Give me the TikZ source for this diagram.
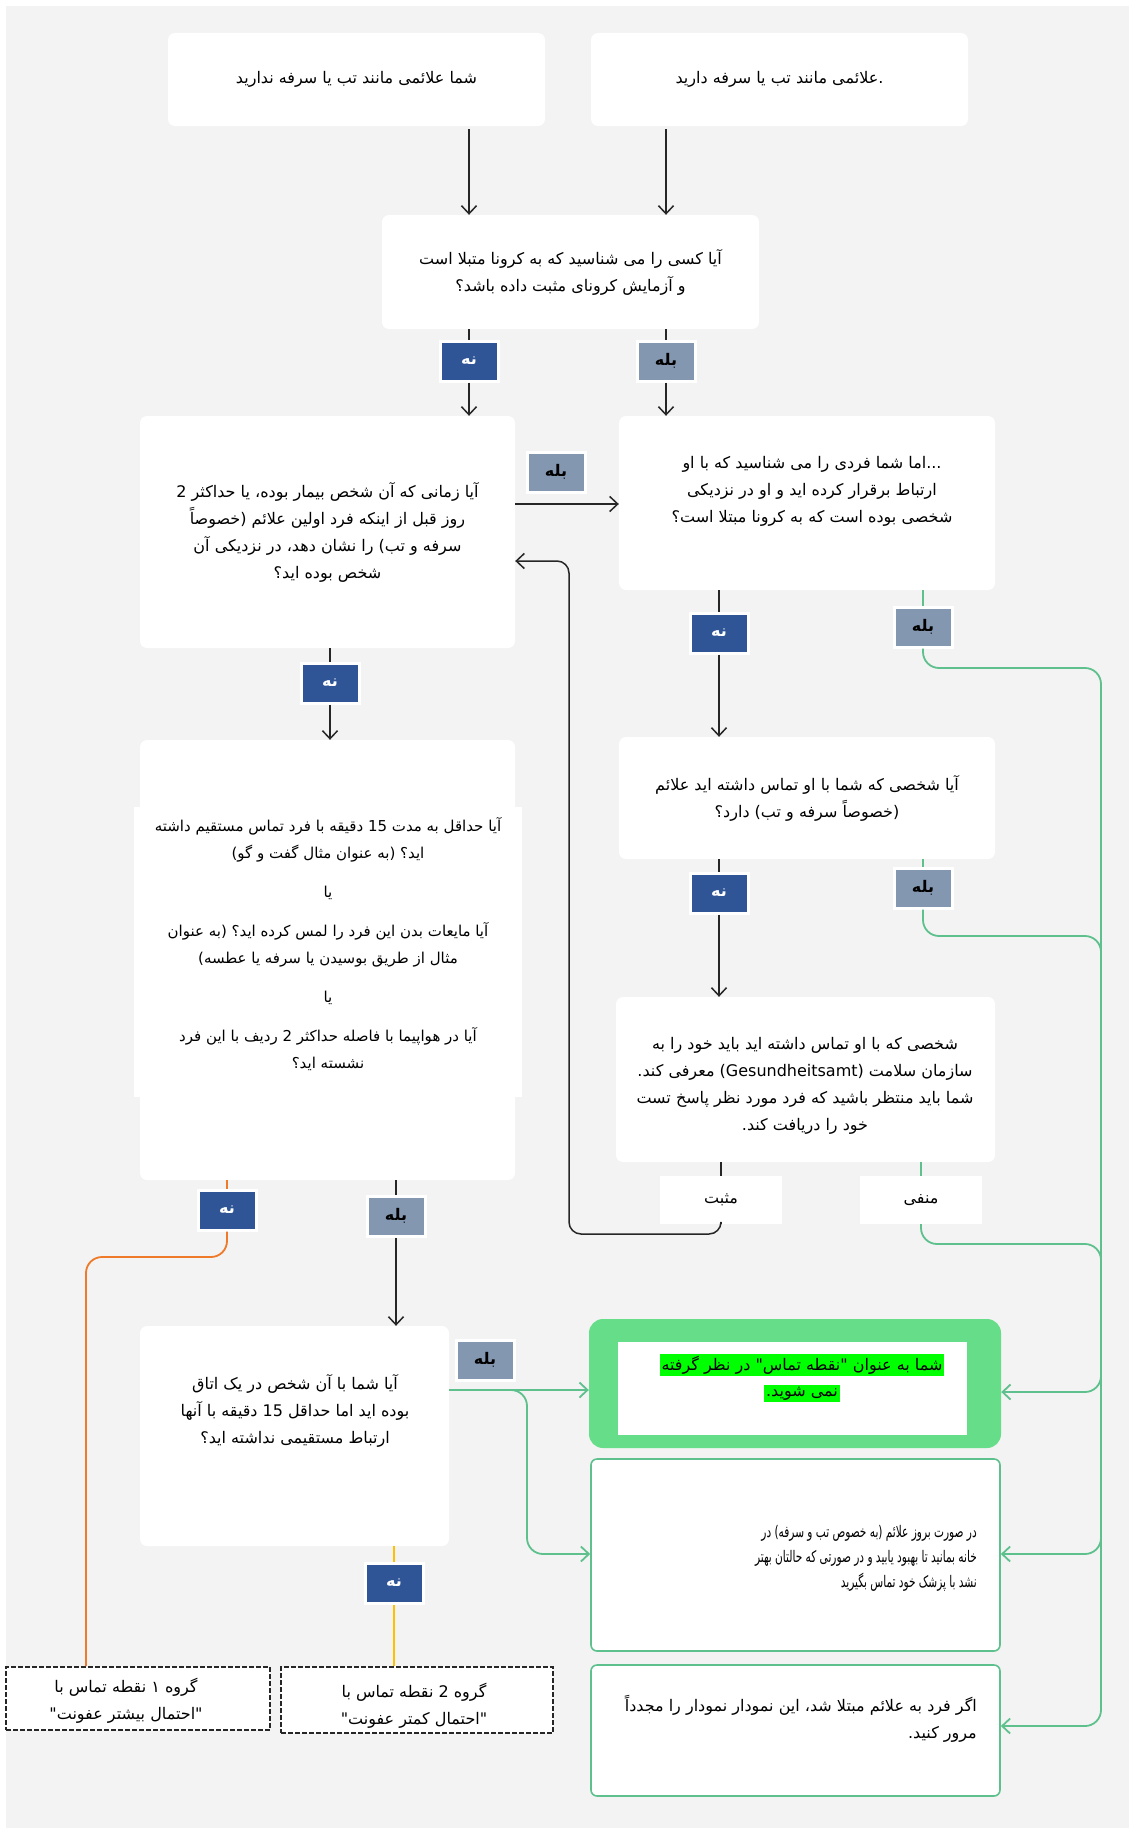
\documentclass[tikz,border=0pt]{standalone}
\usepackage{fontspec}
\usepackage{xcolor}
\usetikzlibrary{arrows.meta}
\TeXXeTstate=1
\setmainfont{DejaVu Sans}
\newfontfamily\farsi[Script=Arabic]{DejaVu Sans}
\newfontfamily\farsic[Script=Arabic,FakeStretch=0.66]{DejaVu Sans}
\newcommand{\rtlline}[1]{\beginR #1\endR}
\newcommand{\txt}{\farsi\fontsize{16}{27}\selectfont}
\newcommand{\hlline}[1]{{\setlength{\fboxsep}{2pt}\colorbox{hlc}{\rtlline{#1}}}}
\definecolor{bgc}{HTML}{F3F3F3}
\definecolor{noc}{HTML}{2F5597}
\definecolor{yesc}{HTML}{8497B0}
\definecolor{linec}{HTML}{262626}
\definecolor{grnc}{HTML}{5EC08C}
\definecolor{orngc}{HTML}{EE7A2A}
\definecolor{goldc}{HTML}{FFC000}
\definecolor{gboxc}{HTML}{66DD88}
\definecolor{hlc}{HTML}{00FF00}
\begin{document}
\begin{tikzpicture}[x=1pt,y=-1pt,
  box/.style={fill=white, rounded corners=7pt, inner sep=0pt, align=center, font=\txt},
  plain/.style={inner sep=0pt, align=center, font=\txt},
  nolab/.style={fill=noc, draw=white, line width=3pt, minimum width=58pt, minimum height=40pt, inner sep=0pt, text=white, font=\farsi\bfseries\fontsize{16}{18}\selectfont},
  yeslab/.style={nolab, fill=yesc, text=black},
  blk/.style={draw=linec, line width=1.5pt},
  tip/.style={-{Straight Barb[length=8pt,width=15pt]}},
  grl/.style={draw=grnc, line width=1.8pt, rounded corners=16pt},
  orl/.style={draw=orngc, line width=1.8pt, rounded corners=16pt},
  gol/.style={draw=goldc, line width=1.8pt},
  grp/.style={fill=white, draw=linec, line width=1.6pt, dash pattern=on 5pt off 2pt, inner sep=0pt},
  outbox/.style={fill=white, draw=grnc, line width=1.6pt, rounded corners=6pt, inner sep=0pt}
]
\fill[white] (0,0) rectangle (1131,1828);
\fill[bgc] (6,6) rectangle (1129,1828);
\useasboundingbox (0,0) rectangle (1131,1828);

% top boxes
\node[box, minimum width=377pt, minimum height=93pt] (b1) at (356.5,79.5) {\rtlline{شما علائمی مانند تب یا سرفه ندارید}};
\node[box, minimum width=377pt, minimum height=93pt] (b2) at (779.5,79.5) {\rtlline{\hbox{.}علائمی مانند تب یا سرفه دارید}};

\node[box, minimum width=377pt, minimum height=114pt] (q1) at (570.5,272) {\rtlline{آیا کسی را می شناسید که به کرونا متبلا است}\\ \rtlline{و آزمایش کرونای مثبت داده باشد؟}};

\node[nolab] (l1n) at (469,361) {نه};
\node[yeslab] (l1y) at (666,361) {بله};

\node[box, minimum width=375pt, minimum height=232pt] (q2) at (327.5,532) {\rtlline{آیا زمانی که آن شخص بیمار بوده، یا حداکثر 2}\\ \rtlline{روز قبل از اینکه فرد اولین علائم (خصوصاً}\\ \rtlline{سرفه و تب) را نشان دهد، در نزدیکی آن}\\ \rtlline{شخص بوده اید؟}};

\node[box, minimum width=376pt, minimum height=174pt] (q3) at (807,503) {};
\node[plain] (q3t) at (812,491) {\rtlline{\hbox{...}اما شما فردی را می شناسید که با او}\\ \rtlline{ارتباط برقرار کرده اید و او در نزدیکی}\\ \rtlline{شخصی بوده است که به کرونا مبتلا است؟}};

\node[yeslab] (l2y) at (556,472) {بله};

\node[nolab] (l3n) at (719,633) {نه};
\node[yeslab] (l3y) at (923,627) {بله};

\node[box, minimum width=376pt, minimum height=122pt] (q4) at (807,798) {\rtlline{آیا شخصی که شما با او تماس داشته اید علائم}\\ \rtlline{(خصوصاً سرفه و تب) دارد؟}};

\node[nolab] (l4n) at (719,893) {نه};
\node[yeslab] (l4y) at (923,888) {بله};

\node[box, minimum width=379pt, minimum height=165pt] (q5) at (805.5,1079.5) {};
\node[plain] (q5t) at (805,1086) {\rtlline{شخصی که با او تماس داشته اید باید خود را به}\\ \rtlline{سازمان سلامت (Gesundheitsamt) معرفی کند.}\\ \rtlline{شما باید منتظر باشید که فرد مورد نظر پاسخ تست}\\ \rtlline{خود را دریافت کند.}};

\node[plain, fill=white, minimum width=122pt, minimum height=48pt] (pos) at (721,1200) {مثبت};
\node[plain, fill=white, minimum width=122pt, minimum height=48pt] (neg) at (921,1200) {منفی};

\node[nolab] (lq2n) at (330,683) {نه};

\node[box, minimum width=375pt, minimum height=440pt] (q6) at (327.5,960) {};
\node[plain, fill=white, minimum width=388pt, minimum height=290pt] (q6in) at (328,952) {};
\node[plain, font=\farsi\fontsize{15}{27}\selectfont] (q6t) at (328,944) {\rtlline{آیا حداقل به مدت 15 دقیقه با فرد تماس مستقیم داشته}\\ \rtlline{اید؟ (به عنوان مثال گفت و گو)}\\[12pt] \rtlline{یا}\\[12pt] \rtlline{آیا مایعات بدن این فرد را لمس کرده اید؟ (به عنوان}\\ \rtlline{مثال از طریق بوسیدن یا سرفه یا عطسه)}\\[12pt] \rtlline{یا}\\[12pt] \rtlline{آیا در هواپیما با فاصله حداکثر 2 ردیف با این فرد}\\ \rtlline{نشسته اید؟}};

\node[nolab] (l6n) at (227,1210) {نه};
\node[yeslab] (l6y) at (396,1216) {بله};

\node[box, minimum width=309pt, minimum height=220pt] (q7) at (294.5,1436) {};
\node[plain] (q7t) at (295,1411) {\rtlline{آیا شما با آن شخص در یک اتاق}\\ \rtlline{بوده اید اما حداقل 15 دقیقه با آنها}\\ \rtlline{ارتباط مستقیمی نداشته اید؟}};

\node[yeslab] (l7y) at (485,1360) {بله};
\node[nolab] (l7n) at (394,1583) {نه};

\node[grp, minimum width=264pt, minimum height=63pt] (g1) at (138,1698.5) {};
\node[plain] (g1t) at (126,1701) {\rtlline{گروه ۱ نقطه تماس با}\\ \rtlline{"احتمال بیشتر عفونت"}};
\node[grp, minimum width=272pt, minimum height=66pt] (g2) at (417,1700) {};
\node[plain] (g2t) at (414,1706) {\rtlline{گروه 2 نقطه تماس با}\\ \rtlline{"احتمال کمتر عفونت"}};

% green result box
\node[fill=gboxc, rounded corners=14pt, minimum width=412pt, minimum height=129pt, inner sep=0pt] (gb) at (795,1383.5) {};
\node[plain, fill=white, minimum width=349pt, minimum height=93pt] (gbin) at (792.5,1388.5) {};
\node[plain] (gbt) at (802,1378) {\hlline{شما به عنوان "نقطه تماس" در نظر گرفته}\\[-1pt] \hlline{نمی شوید.}};

\node[outbox, minimum width=409pt, minimum height=192pt] (r2) at (795.5,1555) {};
\node[plain, align=right, anchor=east, font=\farsic\fontsize{16}{25}\selectfont] (r2t) at (977,1558) {\rtlline{در صورت بروز علائم (به خصوص تب و سرفه) در}\\ \rtlline{خانه بمانید تا بهبود یابید و در صورتی که حالتان بهتر}\\ \rtlline{نشد با پزشک خود تماس بگیرید}};

\node[outbox, minimum width=409pt, minimum height=131pt] (r3) at (795.5,1730.5) {};
\node[plain, align=right, anchor=east] (r3t) at (977,1719) {\rtlline{اگر فرد به علائم مبتلا شد، این نمودار نمودار را مجدداً}\\ \rtlline{مرور کنید.}};

% black connectors
\draw[blk,tip,shorten <=3pt] (b1.south -| l1n) -- (q1.north -| l1n);
\draw[blk,tip,shorten <=3pt] (b2.south -| l1y) -- (q1.north -| l1y);
\draw[blk] (q1.south -| l1n) -- (l1n.north);
\draw[blk,tip] (l1n.south) -- (q2.north -| l1n);
\draw[blk] (q1.south -| l1y) -- (l1y.north);
\draw[blk,tip] (l1y.south) -- (q3.north -| l1y);
\coordinate (a23) at (515,504);
\draw[blk,tip] (a23) -- (a23 -| q3.west);
\draw[blk] (q3.south -| l3n) -- (l3n.north);
\draw[blk,tip] (l3n.south) -- (q4.north -| l3n);
\draw[blk] (q4.south -| l4n) -- (l4n.north);
\draw[blk,tip] (l4n.south) -- (q5.north -| l4n);
\draw[blk] (q5.south -| pos) -- (pos.north);
\draw[blk,tip,rounded corners=12pt] (pos.south) -- (721,1234) -- (569,1234) -- (569,561) -- (q2.east |- 0,561);
\draw[blk] (q2.south -| lq2n) -- (lq2n.north);
\draw[blk,tip] (lq2n.south) -- (q6.north -| lq2n);
\draw[blk] (q6.south -| l6y) -- (l6y.north);
\draw[blk,tip] (l6y.south) -- (q7.north -| l6y);

% green connectors
\draw[grl] (q3.south -| l3y) -- (l3y.north);
\draw[grl,tip] (l3y.south) -- (923,668) -- (1101,668) -- (1101,1726) -- (r3.east |- 0,1726);
\draw[grl] (q4.south -| l4y) -- (l4y.north);
\draw[grl] (l4y.south) -- (923,936) -- (1101,936) -- (1101,975);
\draw[grl] (q5.south -| neg) -- (neg.north);
\draw[grl] (neg.south) -- (921,1244) -- (1101,1244) -- (1101,1285);
\draw[grl,tip] (1101,1350) -- (1101,1392) -- (gb.east |- 0,1392);
\draw[grl,tip] (1101,1510) -- (1101,1554) -- (r2.east |- 0,1554);
\draw[grl,tip] (q7.east |- 0,1390) -- (gb.west |- 0,1390);
\draw[grl,tip] (500,1390) -- (527,1390) -- (527,1554) -- (r2.west |- 0,1554);

% orange and gold
\draw[orl] (q6.south -| l6n) -- (l6n.north);
\draw[orl] (l6n.south) -- (227,1257) -- (86,1257) -- (g1.north -| 86,0);
\draw[gol] (q7.south -| l7n) -- (l7n.north);
\draw[gol] (l7n.south) -- (g2.north -| l7n);
\end{tikzpicture}
\end{document}
